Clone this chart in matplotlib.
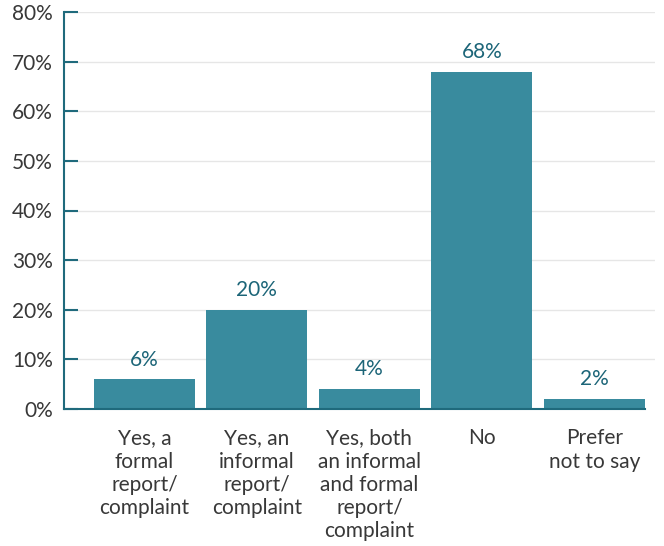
import matplotlib
matplotlib.use("Agg")
import matplotlib.pyplot as plt

categories = [
    "Yes, a\nformal\nreport/\ncomplaint",
    "Yes, an\ninformal\nreport/\ncomplaint",
    "Yes, both\nan informal\nand formal\nreport/\ncomplaint",
    "No",
    "Prefer\nnot to say",
]
values = [6, 20, 4, 68, 2]
y_ticks = [0, 10, 20, 30, 40, 50, 60, 70, 80]
y_tick_labels = [f"{t}%" for t in y_ticks]

bar_color = "#398b9e"
axis_color = "#1f6a7c"
label_color = "#1c6578"
text_color = "#383838"
fs = 15

plt.rcParams["font.family"] = ["Lato", "DejaVu Sans"]

fig = plt.figure(figsize=(6.64, 5.46), dpi=100)
ax = fig.add_axes([64 / 664, 1 - 409 / 546, (655 - 64) / 664, (409 - 12) / 546])

x = list(range(len(categories)))
ax.bar(x, values, width=0.9, color=bar_color, zorder=2)

for xi, v in zip(x, values):
    ax.annotate(f"{v}%", (xi, v), xytext=(0, 7), textcoords="offset points",
                ha="center", va="bottom", fontsize=fs, color=label_color)

ax.set_xlim(-0.715, 4.54)
ax.set_ylim(0, 80)
ax.set_yticks(y_ticks)
ax.set_yticklabels(y_tick_labels, fontsize=fs, color=text_color)
ax.set_xticks(x)
ax.set_xticklabels(categories, fontsize=fs, color=text_color, linespacing=1.2, va="top")

ax.tick_params(axis="y", direction="in", length=10, width=1.5, color=axis_color, pad=8)
ax.tick_params(axis="x", length=0, pad=14)

for g in y_ticks[1:]:
    ax.axhline(g, color="#e6e6e6", linewidth=1, zorder=1)

for s in ["top", "right"]:
    ax.spines[s].set_visible(False)
ax.spines["left"].set_color(axis_color)
ax.spines["left"].set_linewidth(1.5)
ax.spines["bottom"].set_color(axis_color)
ax.spines["bottom"].set_linewidth(1.5)
ax.spines["bottom"].set_bounds(-0.715, 4.45)
ax.spines["bottom"].set_zorder(3)

fig.savefig("out.png", dpi=100)
